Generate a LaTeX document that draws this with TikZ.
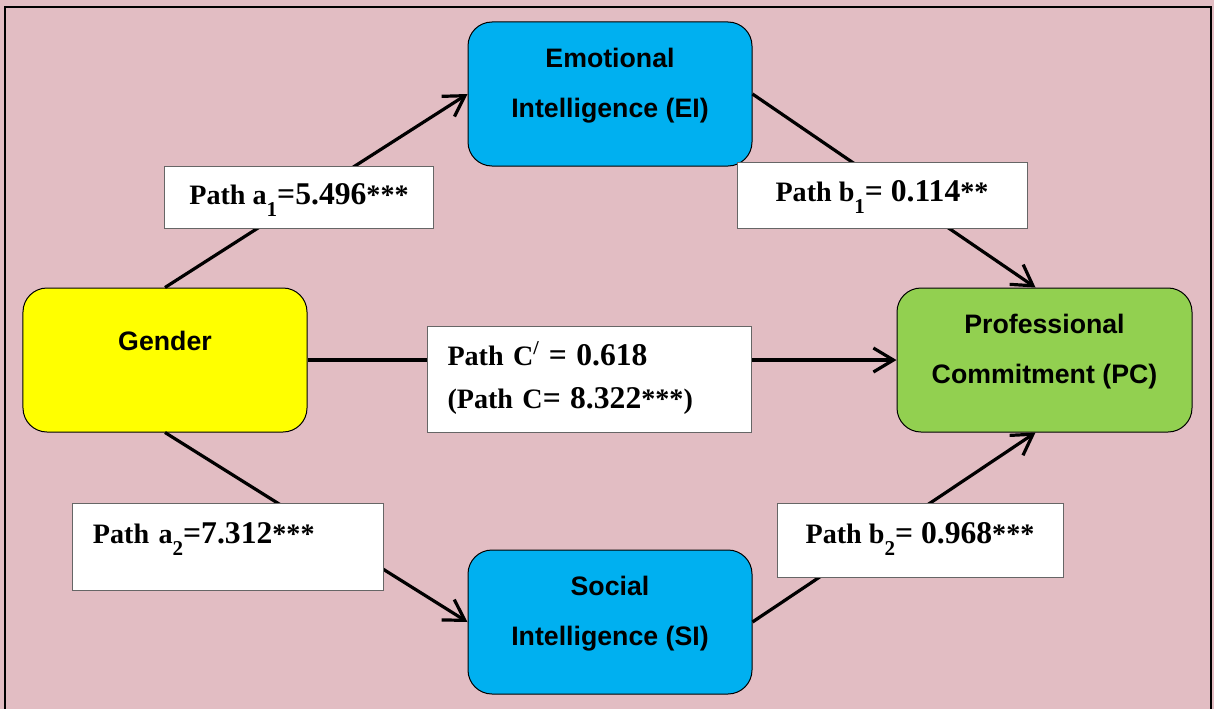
\documentclass[tikz,border=0pt]{standalone}
\usepackage{fontspec}
\setmainfont{Liberation Serif}
\setsansfont{Liberation Sans}
\usetikzlibrary{positioning, arrows.meta, calc}
\definecolor{bgpink}{RGB}{226,189,195}
\definecolor{eicyan}{RGB}{0,176,240}
\definecolor{gyellow}{RGB}{255,255,0}
\definecolor{pcgreen}{RGB}{146,208,80}
\newcommand{\valtxt}[1]{{\fontsize{22.5}{27}\selectfont #1}}
\newcommand{\lowidx}[1]{\raisebox{-3mm}{\fontsize{15}{15}\selectfont #1}}

\begin{document}
\begin{tikzpicture}[x=0.25mm, y=-0.25mm]
\tikzset{
    varbox/.style={draw=black, line width=0.25mm, rounded corners=6mm, minimum width=71mm, minimum height=36mm,
        inner sep=0pt, align=center, font=\sffamily\bfseries\fontsize{19}{35.5}\selectfont,
        text height=14mm, text depth=2.5mm},
    pathbox/.style={draw=black!60, fill=white, line width=0.25mm, inner sep=0pt,
        font=\bfseries\fontsize{20}{30.6}\selectfont, text height=6mm},
    effect/.style={line width=0.8mm, -{Straight Barb[length=5mm, width=6mm]}}
}
\useasboundingbox (0,0) rectangle (1214,709);
\fill[bgpink] (0,0) rectangle (1214,709);
\draw[line width=0.5mm] (5,709) |- (1211,7) -- (1211,709);

\node[varbox, fill=eicyan] (ei) at (610,94) {Emotional\\Intelligence (EI)};
\node[varbox, fill=eicyan] (si) at (610,622) {Social\\Intelligence (SI)};
\node[varbox, fill=gyellow, text height=5mm, text depth=10mm] (gender) at (165,360) {Gender};
\node[varbox, fill=pcgreen, minimum width=73.75mm] (pc) at (1044.5,360) {Professional\\Commitment (PC)};

\draw[effect] (gender.north) -- (ei.west);
\draw[effect] (ei.east) -- ($(pc.north)+(-9,0)$);
\draw[effect] (gender.east) -- (pc.west);
\draw[effect] (gender.south) -- (si.west);
\draw[effect] (si.east) -- ($(pc.south)+(-9,0)$);

\node[pathbox, minimum width=67mm, minimum height=15.5mm, text depth=2.5mm] (a1) at (299,197)
    {Path a\lowidx{1}\valtxt{=5.496}***};
\node[pathbox, minimum width=72.5mm, minimum height=16.5mm, text depth=2.9mm] (b1) at (882,195.5)
    {Path b\lowidx{1}\valtxt{= 0.114}**};
\node[pathbox, text width=71mm, inner xsep=5mm, minimum height=26.5mm, align=left, text depth=13mm] (c) at (589.5,379)
    {Path C\textsuperscript{/} \valtxt{= 0.618}\\(Path C\valtxt{= 8.322}***)};
\node[pathbox, text width=67.5mm, inner xsep=5mm, minimum height=21.75mm, align=left, text depth=7.85mm] (a2) at (228,547)
    {Path a\lowidx{2}\valtxt{=7.312}***};
\node[pathbox, minimum width=71.5mm, minimum height=18.5mm, text depth=4.35mm] (b2) at (920,540)
    {Path b\lowidx{2}\valtxt{= 0.968}***};
\end{tikzpicture}
\end{document}
